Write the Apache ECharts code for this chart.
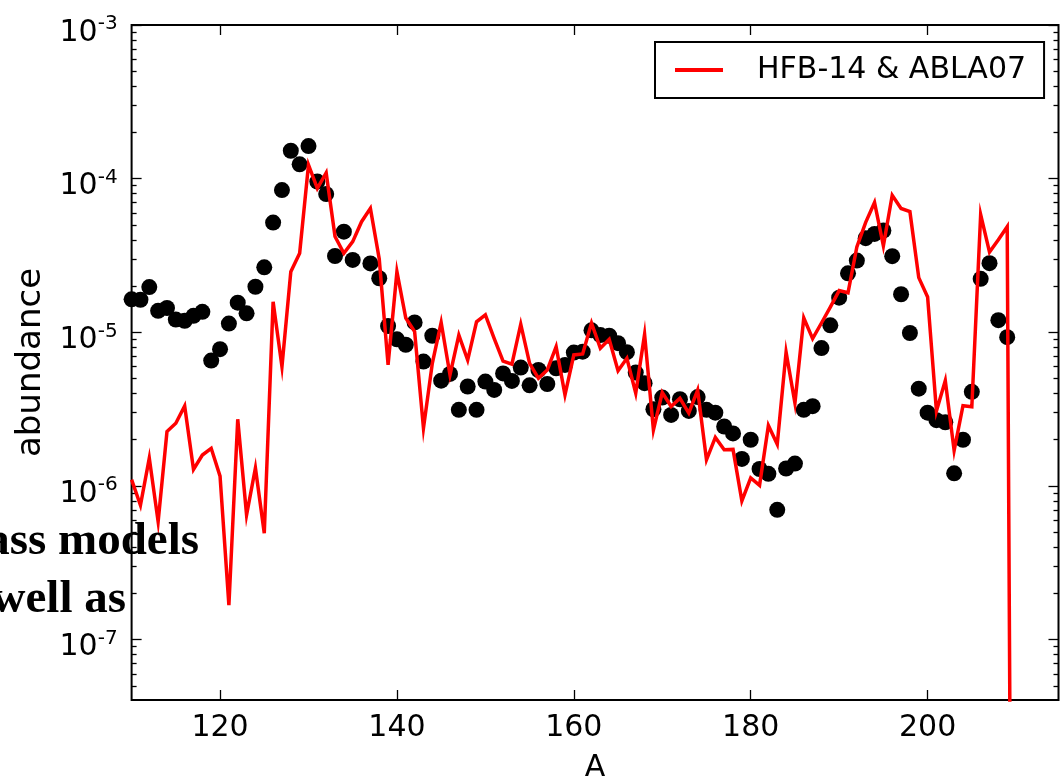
<!DOCTYPE html>
<html>
<head>
<meta charset="utf-8">
<script src="https://cdn.jsdelivr.net/npm/echarts@6/dist/echarts.min.js"></script>
<style>
  html, body { margin: 0; padding: 0; background: #fff; }
  #chart { width: 1060px; height: 779px; }
</style>
</head>
<body>
<div id="chart"></div>
<script>
// Mass numbers of the measured abundances (A = 136 has no point)
var massNumbers = [
  110,111,112,113,114,115,116,117,118,119,
  120,121,122,123,124,125,126,127,128,129,
  130,131,132,133,134,135,136,137,138,139,
  140,141,142,143,144,145,146,147,148,149,
  150,151,152,153,154,155,156,157,158,159,
  160,161,162,163,164,165,166,167,168,169,
  170,171,172,173,174,175,176,177,178,179,
  180,181,182,183,184,185,186,187,188,189,
  190,191,192,193,194,195,196,197,198,199,
  200,201,202,203,204,205,206,207,208,209
];

// Observed abundances (black points)
var observed = [
  1.64e-5,1.63e-5,1.97e-5,1.38e-5,1.44e-5,1.21e-5,1.19e-5,1.28e-5,1.36e-5,6.55e-6,
  7.77e-6,1.14e-5,1.56e-5,1.33e-5,1.98e-5,2.65e-5,5.18e-5,8.43e-5,1.52e-4,1.24e-4,
  1.63e-4,9.57e-5,7.94e-5,3.14e-5,4.52e-5,2.96e-5,null,2.81e-5,2.25e-5,1.10e-5,
  9.0e-6,8.3e-6,1.16e-5,6.45e-6,9.5e-6,4.85e-6,5.36e-6,3.13e-6,4.44e-6,3.13e-6,
  4.78e-6,4.22e-6,5.4e-6,4.83e-6,5.9e-6,4.52e-6,5.69e-6,4.61e-6,5.83e-6,6.14e-6,
  7.38e-6,7.48e-6,1.03e-5,9.6e-6,9.5e-6,8.5e-6,7.43e-6,5.47e-6,4.67e-6,3.16e-6,
  3.76e-6,2.9e-6,3.67e-6,3.08e-6,3.79e-6,3.13e-6,3.0e-6,2.44e-6,2.2e-6,1.5e-6,
  2.0e-6,1.29e-6,1.2e-6,7.0e-7,1.30e-6,1.40e-6,3.13e-6,3.31e-6,7.9e-6,1.11e-5,
  1.68e-5,2.42e-5,2.93e-5,4.1e-5,4.37e-5,4.6e-5,3.13e-5,1.77e-5,9.9e-6,4.3e-6,
  3.0e-6,2.68e-6,2.6e-6,1.21e-6,2.0e-6,4.1e-6,2.23e-5,2.82e-5,1.2e-5,9.3e-6
];

// Mass numbers of the HFB-14 & ABLA07 calculation
var modelMass = massNumbers.concat([210]);

// Calculated abundances (red line); the last value drops off the plot
var modelAbundance = [
  1.10e-6,7.5e-7,1.52e-6,5.86e-7,2.26e-6,2.56e-6,3.32e-6,1.28e-6,1.59e-6,1.76e-6,
  1.16e-6,1.68e-7,2.72e-6,6.48e-7,1.31e-6,4.93e-7,1.58e-5,5.98e-6,2.48e-5,3.27e-5,
  1.23e-4,8.65e-5,1.09e-4,4.2e-5,3.27e-5,3.89e-5,5.25e-5,6.41e-5,3.0e-5,6.14e-6,
  2.48e-5,1.24e-5,1.01e-5,2.38e-6,6.29e-6,1.16e-5,5.28e-6,9.6e-6,6.6e-6,1.17e-5,
  1.30e-5,9.1e-6,6.5e-6,6.2e-6,1.13e-5,6.29e-6,5.02e-6,5.69e-6,8.07e-6,3.92e-6,
  7.13e-6,7.23e-6,1.15e-5,7.87e-6,9.0e-6,5.63e-6,6.78e-6,4.02e-6,9.7e-6,2.32e-6,
  4.06e-6,3.29e-6,3.72e-6,2.98e-6,4.21e-6,1.48e-6,2.07e-6,1.72e-6,1.73e-6,8.0e-7,
  1.13e-6,1.01e-6,2.48e-6,1.87e-6,7.43e-6,3.47e-6,1.24e-5,9.1e-6,1.15e-5,1.46e-5,
  1.87e-5,1.81e-5,3.6e-5,5.2e-5,7.0e-5,3.66e-5,7.8e-5,6.4e-5,6.1e-5,2.27e-5,
  1.70e-5,3.08e-6,4.86e-6,1.70e-6,3.33e-6,3.28e-6,5.83e-5,3.33e-5,4.0e-5,4.87e-5,
  2e-15
];

// Tick positions
var xTicks = [120, 140, 160, 180, 200];
var yMajorTicks = [1e-7, 1e-6, 1e-5, 1e-4, 1e-3];
var yMinorTicks = [];
[-8, -7, -6, -5, -4].forEach(function (p) {
  for (var m = 2; m <= 9; m++) yMinorTicks.push(+(m + 'e' + p));
});

var FONT = 'DejaVu Sans';
var Y_MIN = 4.05e-8, Y_MAX = 1e-3;
var X_MIN = 110, X_MAX = 214.8;

function expLabel(v) {
  var p = Math.round(Math.log10(v));
  return '{b|10}{s|' + (p < 0 ? '-' + (-p) : p) + '}';
}

function xAxisDef(pos, showLabels) {
  return {
    type: 'value', position: pos, min: X_MIN, max: X_MAX,
    axisLine: { show: false },
    splitLine: { show: false },
    axisTick: {
      show: true, inside: true, length: 10, customValues: xTicks,
      lineStyle: { color: '#000', width: 1.3 }
    },
    axisLabel: {
      show: showLabels, customValues: xTicks, margin: 13,
      fontFamily: FONT, fontSize: 30, color: '#000'
    }
  };
}

function yAxisDef(pos, ticks, len, showLabels) {
  return {
    type: 'log', logBase: 10, position: pos, min: Y_MIN, max: Y_MAX,
    axisLine: { show: false },
    splitLine: { show: false },
    minorTick: { show: false },
    axisTick: {
      show: true, inside: true, length: len, customValues: ticks,
      lineStyle: { color: '#000', width: 1.3 }
    },
    axisLabel: {
      show: showLabels, customValues: yMajorTicks, margin: 14,
      formatter: expLabel,
      padding: [12, 0, 0, 0],
      rich: {
        b: { fontFamily: FONT, fontSize: 30, color: '#000', lineHeight: 34, verticalAlign: 'bottom' },
        s: { fontFamily: FONT, fontSize: 20, color: '#000', lineHeight: 20, verticalAlign: 'top' }
      }
    }
  };
}

var yAxes = [
  yAxisDef('left', yMajorTicks, 10, true),
  yAxisDef('left', yMinorTicks, 5, false),
  yAxisDef('right', yMajorTicks, 10, false),
  yAxisDef('right', yMinorTicks, 5, false)
];
yAxes[0].name = 'abundance';
yAxes[0].nameLocation = 'middle';
yAxes[0].nameRotate = 90;
yAxes[0].nameGap = 80;
yAxes[0].nameTextStyle = { fontFamily: FONT, fontSize: 34, color: '#000' };

var xAxes = [xAxisDef('bottom', true), xAxisDef('top', false)];
xAxes[0].name = 'A';
xAxes[0].nameLocation = 'middle';
xAxes[0].nameGap = 53;
xAxes[0].nameTextStyle = { fontFamily: FONT, fontSize: 30, color: '#000' };

var observedPoints = [];
massNumbers.forEach(function (a, i) {
  if (observed[i] != null) observedPoints.push([a, observed[i]]);
});
var modelPoints = modelMass.map(function (a, i) { return [a, modelAbundance[i]]; });

var chart = echarts.init(document.getElementById('chart'), null, { renderer: 'canvas' });
chart.setOption({
  animation: false,
  backgroundColor: '#fff',
  grid: {
    left: 131.6, right: 1.5, top: 25, bottom: 79,
    outerBoundsMode: 'none',
    show: true, borderColor: '#000', borderWidth: 2, backgroundColor: 'transparent',
    containLabel: false
  },
  xAxis: xAxes,
  yAxis: yAxes,
  legend: {
    left: 655, top: 42,
    data: [{ name: 'HFB-14 & ABLA07', icon: 'rect' }],
    itemWidth: 48, itemHeight: 4,
    padding: [13, 18, 13, 20],
    borderColor: '#000', borderWidth: 2, borderRadius: 0, backgroundColor: '#fff',
    textStyle: { fontFamily: FONT, fontSize: 30, color: '#000', padding: [0, 0, 0, 29] }
  },
  series: [
    {
      name: 'observed', type: 'scatter', xAxisIndex: 0, yAxisIndex: 0,
      data: observedPoints, symbol: 'circle', symbolSize: 16,
      itemStyle: { color: '#000', opacity: 1 }, z: 2, clip: true
    },
    {
      name: 'HFB-14 & ABLA07', type: 'line', xAxisIndex: 0, yAxisIndex: 0,
      data: modelPoints, showSymbol: false, symbol: 'none',
      lineStyle: { color: '#ff0000', width: 3.5, join: 'miter' },
      itemStyle: { color: '#ff0000' }, z: 3, clip: true
    }
  ],
  graphic: [
    {
      type: 'text', z: 100,
      style: { text: 'ass models', x: 199, y: 542, align: 'right', verticalAlign: 'middle',
               font: 'bold 47px "Liberation Serif"', fill: '#000' }
    },
    {
      type: 'text', z: 100,
      style: { text: 'well as', x: 126, y: 600, align: 'right', verticalAlign: 'middle',
               font: 'bold 47px "Liberation Serif"', fill: '#000' }
    }
  ]
});
</script>
</body>
</html>
